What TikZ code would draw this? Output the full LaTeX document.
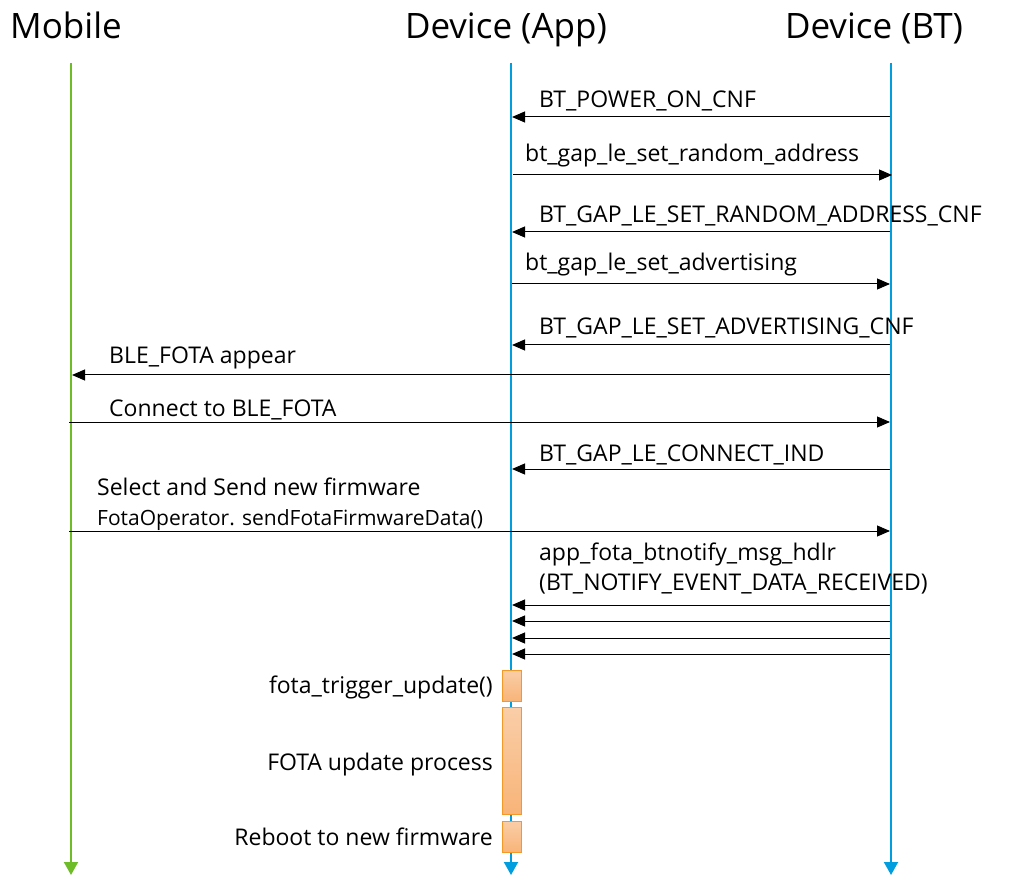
\documentclass[tikz,border=0pt]{standalone}
\usepackage{fontspec}
\setmainfont{Open Sans}
\usetikzlibrary{arrows.meta}
\definecolor{mgreen}{RGB}{110,188,40}
\definecolor{lblue}{RGB}{0,158,222}
\definecolor{oborder}{RGB}{244,152,40}
\definecolor{otop}{RGB}{250,206,168}
\definecolor{obot}{RGB}{248,180,120}
\tikzset{
  title/.style={font=\fontsize{35}{40}\selectfont, inner sep=0pt, anchor=base},
  lbl/.style={font=\fontsize{23}{27}\selectfont, inner sep=0pt, anchor=base west},
  slbl/.style={font=\fontsize{21}{25}\selectfont, inner sep=0pt, anchor=base west},
  rlbl/.style={font=\fontsize{23}{27}\selectfont, inner sep=0pt, anchor=base east},
  msg/.style={draw=black, line width=1pt, -{Triangle[length=13pt,width=11pt]}},
  life/.style={line width=2pt, -{Triangle[length=13pt,width=14pt]}},
  actbox/.style={draw=oborder, line width=1pt, top color=otop, bottom color=obot, minimum width=19pt, inner sep=0pt},
}
\begin{document}
\begin{tikzpicture}[x=1pt,y=-1pt]
\useasboundingbox (0,0) rectangle (1009,890);
% titles
\node[title] (tm) at (66,39) {Mobile};
\node[title] (ta) at (506,39) {Device (App)};
\node[title] (tb) at (874,39) {Device (BT)};
% lifeline coordinates
\coordinate (m0) at (71,63); \coordinate (m1) at (71,875);
\coordinate (a0) at (511,63); \coordinate (a1) at (511,875);
\coordinate (b0) at (891,63); \coordinate (b1) at (891,875);
\draw[life, draw=mgreen, fill=mgreen] (m0) -- (m1);
\draw[life, draw=lblue, fill=lblue] (a0) -- (a1);
\draw[life, draw=lblue, fill=lblue] (b0) -- (b1);
% message endpoints
\foreach \n/\y in {1/117,3/232,5/345,8/469,10/605,11/621,12/638,13/654}{
  \coordinate (s\n) at (890,\y); \coordinate (e\n) at (512,\y);
}
\coordinate (s2) at (513,175); \coordinate (e2) at (892,175);
\coordinate (s4) at (512,284); \coordinate (e4) at (890,284);
\coordinate (s6) at (890,375); \coordinate (e6) at (72,375);
\coordinate (s7) at (69,422); \coordinate (e7) at (890,422);
\coordinate (s9) at (69,531); \coordinate (e9) at (890,531);
\foreach \n in {1,...,13}{ \draw[msg] (s\n) -- (e\n); }
% labels
\node[lbl] (l1) at (539,108) {BT\_POWER\_ON\_CNF};
\node[lbl] (l2) at (525,162) {bt\_gap\_le\_set\_random\_address};
\node[lbl] (l3) at (539,223) {BT\_GAP\_LE\_SET\_RANDOM\_ADDRESS\_CNF};
\node[lbl] (l4) at (525,271) {bt\_gap\_le\_set\_advertising};
\node[lbl] (l5) at (539,335) {BT\_GAP\_LE\_SET\_ADVERTISING\_CNF};
\node[lbl] (l6) at (109,363) {BLE\_FOTA appear};
\node[lbl] (l7) at (109,416) {Connect to BLE\_FOTA};
\node[lbl] (l8) at (539,461) {BT\_GAP\_LE\_CONNECT\_IND};
\node[lbl] (l9) at (97,495) {Select and Send new firmware};
\node[slbl] (l9b) at (97,525) {FotaOperator. sendFotaFirmwareData()};
\node[lbl] (l10) at (539,560) {app\_fota\_btnotify\_msg\_hdlr};
\node[lbl] (l10b) at (539,590) {(BT\_NOTIFY\_EVENT\_DATA\_RECEIVED)};
% activation boxes
\node[actbox, minimum height=31pt] (b1x) at (511.5,685.5) {};
\node[actbox, minimum height=107pt] (b2x) at (511.5,760.5) {};
\node[actbox, minimum height=31pt] (b3x) at (511.5,836.5) {};
\node[rlbl] (r1) at (493,693) {fota\_trigger\_update()};
\node[rlbl] (r2) at (493,770) {FOTA update process};
\node[rlbl] (r3) at (493,845) {Reboot to new firmware};
\end{tikzpicture}
\end{document}
